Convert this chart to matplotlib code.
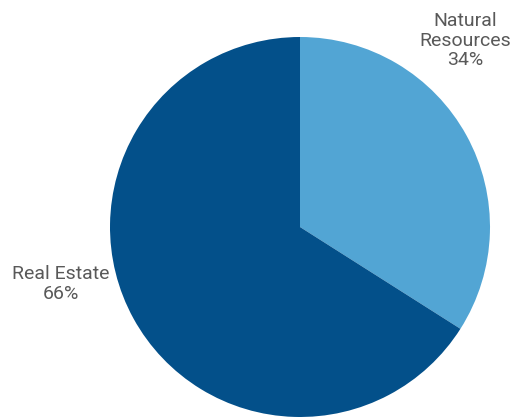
import matplotlib.pyplot as plt

labels = ['Natural\nResources', 'Real Estate']
shares = [34, 66]
colors = ['#52A5D4', '#03508A']

plt.rcParams['font.family'] = ['Roboto', 'DejaVu Sans']

fig = plt.figure(figsize=(5.17, 4.17), dpi=100)
ax = fig.add_axes([110 / 517, 0.0, 380 / 517, 380 / 417])

ax.pie(shares, colors=colors, startangle=90, counterclock=False,
       wedgeprops={'linewidth': 0})
ax.set_xlim(-1, 1)
ax.set_ylim(-1, 1)
ax.set_aspect('equal')

# labels sit outside the pie
pos = [(0.87, 0.98), (-1.26, -0.30)]
for lab, val, (x, y) in zip(labels, shares, pos):
    ax.text(x, y, f'{lab}\n{val}%', ha='center', va='center',
            fontsize=14, color='#595959', linespacing=1.1, clip_on=False)

fig.savefig('out.png', dpi=100)
